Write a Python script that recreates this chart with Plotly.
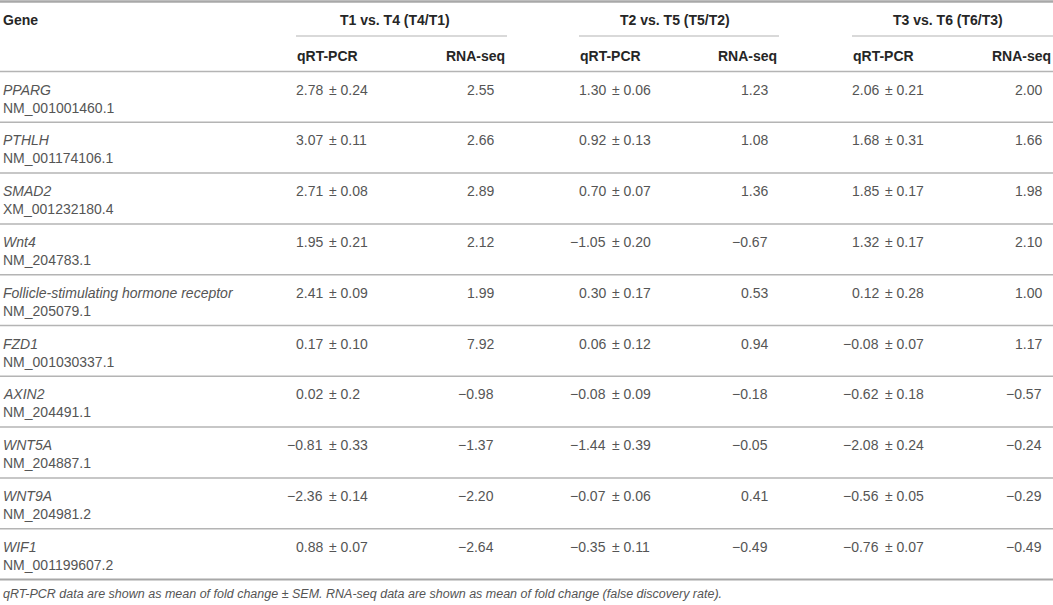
import plotly.graph_objects as go

# ---------------- data ----------------
genes = ["PPARG", "PTHLH", "SMAD2", "Wnt4", "Follicle-stimulating hormone receptor",
         "FZD1", "AXIN2", "WNT5A", "WNT9A", "WIF1"]
accessions = ["NM_001001460.1", "NM_001174106.1", "XM_001232180.4", "NM_204783.1",
              "NM_205079.1", "NM_001030337.1", "NM_204491.1", "NM_204887.1",
              "NM_204981.2", "NM_001199607.2"]

comparisons = ["T1 vs. T4 (T4/T1)", "T2 vs. T5 (T5/T2)", "T3 vs. T6 (T6/T3)"]
sub_headers = ["qRT-PCR", "RNA-seq"]

t1_qpcr_mean = ["2.78", "3.07", "2.71", "1.95", "2.41", "0.17", "0.02", "-0.81", "-2.36", "0.88"]
t1_qpcr_sem = ["0.24", "0.11", "0.08", "0.21", "0.09", "0.10", "0.2", "0.33", "0.14", "0.07"]
t1_rnaseq = ["2.55", "2.66", "2.89", "2.12", "1.99", "7.92", "-0.98", "-1.37", "-2.20", "-2.64"]

t2_qpcr_mean = ["1.30", "0.92", "0.70", "-1.05", "0.30", "0.06", "-0.08", "-1.44", "-0.07", "-0.35"]
t2_qpcr_sem = ["0.06", "0.13", "0.07", "0.20", "0.17", "0.12", "0.09", "0.39", "0.06", "0.11"]
t2_rnaseq = ["1.23", "1.08", "1.36", "-0.67", "0.53", "0.94", "-0.18", "-0.05", "0.41", "-0.49"]

t3_qpcr_mean = ["2.06", "1.68", "1.85", "1.32", "0.12", "-0.08", "-0.62", "-2.08", "-0.56", "-0.76"]
t3_qpcr_sem = ["0.21", "0.31", "0.17", "0.17", "0.28", "0.07", "0.18", "0.24", "0.05", "0.07"]
t3_rnaseq = ["2.00", "1.66", "1.98", "2.10", "1.00", "1.17", "-0.57", "-0.24", "-0.29", "-0.49"]

footnote = ("qRT-PCR data are shown as mean of fold change ± SEM. "
            "RNA-seq data are shown as mean of fold change (false discovery rate).")

# ---------------- layout / style ----------------
W, H = 1053, 605
FONT = "Liberation Sans, Arial, Helvetica, sans-serif"
BODY = "#555555"
HEAD = "#262626"
LINE = "#b4b4b4"
FS = 14

col_left = [296, 579, 852]
col_right = [507, 779, 1053]
title_center = [395, 675, 948]
mean_right_off = 28       # right edge of the mean, from column left
rna_right = [495, 769, 1043]

y_top = 1.5
y_title = 19.5
y_underline = 36
y_sub = 56
y_subline = 71.5
row_h = 50.8

groups = [
    (t1_qpcr_mean, t1_qpcr_sem, t1_rnaseq),
    (t2_qpcr_mean, t2_qpcr_sem, t2_rnaseq),
    (t3_qpcr_mean, t3_qpcr_sem, t3_rnaseq),
]


def fmt(v):
    return v.replace("-", "\u2212")


fig = go.Figure()
fig.add_trace(go.Scatter(x=[0], y=[0], mode="markers", marker=dict(opacity=0),
                         hoverinfo="skip", showlegend=False))

ann = []


def text(x, y, s, anchor="left", color=BODY, size=FS):
    ann.append(dict(x=x, y=y, xref="x", yref="y", text=s, showarrow=False,
                    xanchor=anchor, yanchor="middle", borderpad=0,
                    font=dict(family=FONT, size=size, color=color)))


shapes = []


def hline(x0, x1, y, width=1.3, color=LINE):
    shapes.append(dict(type="line", xref="x", yref="y", x0=x0, x1=x1, y0=y, y1=y,
                       line=dict(color=color, width=width)))


# header
hline(0, W, y_top, width=2.5, color="#a8a8a8")
text(2, y_title, "<b>Gene</b>", color=HEAD)
for g, name in enumerate(comparisons):
    text(title_center[g], y_title, f"<b>{name}</b>", anchor="center", color=HEAD)
    hline(col_left[g], col_right[g], y_underline, width=1.1)
    text(col_left[g], y_sub, f"<b>{sub_headers[0]}</b>", color=HEAD)
    text(col_right[g] - 1, y_sub, f"<b>{sub_headers[1]}</b>", anchor="right", color=HEAD)
hline(0, W, y_subline, width=1.5)

# body rows
for i, (gname, acc) in enumerate(zip(genes, accessions)):
    top = y_subline + i * row_h
    y1 = top + 18
    y2 = top + 36
    text(2, y1, f"<i>{gname}</i>")
    text(2, y2, acc)
    for g, (means, sems, rnas) in enumerate(groups):
        mx = col_left[g] + mean_right_off
        text(mx, y1, fmt(means[i]), anchor="right")
        text(mx + 4, y1, f"± {sems[i]}", anchor="left")
        text(rna_right[g], y1, fmt(rnas[i]), anchor="right")
    bottom = top + row_h
    if i < len(genes) - 1:
        hline(0, W, bottom, width=1.5)
    else:
        hline(0, W, bottom, width=2.0, color="#a8a8a8")

text(2, y_subline + len(genes) * row_h + 14, f"<i>{footnote}</i>", size=12.5, color=BODY)

fig.update_layout(
    width=W, height=H,
    margin=dict(l=0, r=0, t=0, b=0),
    paper_bgcolor="white", plot_bgcolor="white",
    xaxis=dict(range=[0, W], visible=False, fixedrange=True),
    yaxis=dict(range=[H, 0], visible=False, fixedrange=True),
    annotations=ann, shapes=shapes, showlegend=False,
)

fig.write_html(
    "out.html",
    config={"displayModeBar": False},
    post_script="document.body.style.margin='0';document.body.style.overflow='hidden';",
)
